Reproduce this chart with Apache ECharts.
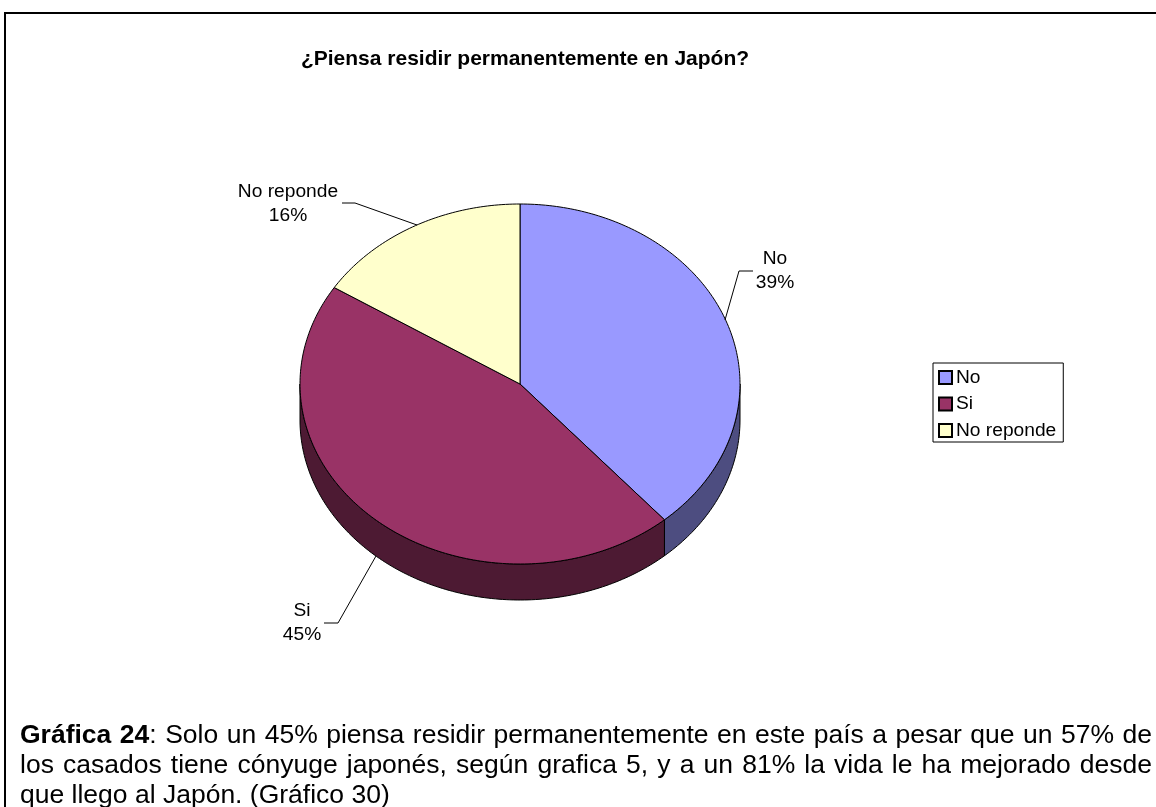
<!DOCTYPE html>
<html>
<head>
<meta charset="utf-8">
<title>Piensa residir</title>
<script src="https://cdn.jsdelivr.net/npm/echarts@6/dist/echarts.min.js"></script>
<style>
  html, body { margin: 0; padding: 0; background: #fff; overflow: hidden; }
  #chart { position: absolute; left: 0; top: 0; width: 1156px; height: 807px; }
  #caption {
    position: absolute; left: 20px; top: 719px; width: 1132px; margin: 0;
    font: 26.5px/30px "Liberation Sans", Arial, sans-serif; color: #000;
  }
  #caption div { white-space: nowrap; text-align: justify; text-align-last: justify; }
  #caption div:last-child { text-align-last: left; }
</style>
</head>
<body>
<div id="chart"></div>
<div id="caption">
  <div><b>Gráfica 24</b>: Solo un 45% piensa residir permanentemente en este país a pesar que un 57% de</div>
  <div>los casados tiene cónyuge japonés, según grafica 5, y a un 81% la vida le ha mejorado desde</div>
  <div>que llego al Japón. (Gráfico 30)</div>
</div>
<script>
const categories = ["No", "Si", "No reponde"];
const values = [38.6, 45.4, 16];
const topColors = ["#9999FF", "#993366", "#FFFFCC"];
const sideColors = ["#4D4D80", "#4D1A33", "#80804D"];

// pie is an ellipse seen from above, angle 0 = top, clockwise
const cx = 520, cy = 384, rx = 220, ry = 180, depth = 36;
const font = '"Liberation Sans", Arial, sans-serif';
// label centre and leader line for each slice
const labelPos = [[775, 271], [302, 623], [288, 204]];
const leaderLines = [
  [[753, 271], [739, 271], [725, 320]],
  [[324, 623], [338, 623], [376, 556]],
  [[342, 203], [355, 203], [417, 225]]
];

const total = values.reduce((a, b) => a + b, 0);
const starts = values.map((v, i) => values.slice(0, i).reduce((a, b) => a + b, 0) / total * Math.PI * 2);
const ends = values.map((v, i) => starts[i] + v / total * Math.PI * 2);

function rimPoint(a, dy) {
  return [cx + rx * Math.sin(a), cy - ry * Math.cos(a) + dy];
}
function arc(a0, a1, dy) {
  const pts = [];
  const n = Math.max(2, Math.ceil((a1 - a0) * 60));
  for (let k = 0; k <= n; k++) pts.push(rimPoint(a0 + (a1 - a0) * k / n, dy));
  return pts;
}

function renderSide(params) {
  const i = params.dataIndex;
  // only the front half of the rim shows
  const a0 = Math.max(starts[i], Math.PI / 2);
  const a1 = Math.min(ends[i], Math.PI * 1.5);
  if (a1 <= a0) return null;
  const pts = arc(a0, a1, 0).concat(arc(a0, a1, depth).reverse());
  return {
    type: "polygon",
    shape: { points: pts },
    style: { fill: sideColors[i], stroke: "#000", lineWidth: 1 }
  };
}

function renderTop(params) {
  const i = params.dataIndex;
  return {
    type: "polygon",
    shape: { points: [[cx, cy]].concat(arc(starts[i], ends[i], 0)) },
    style: { fill: topColors[i], stroke: "#000", lineWidth: 1 }
  };
}

function renderLabel(params) {
  const i = params.dataIndex;
  return {
    type: "group",
    children: [
      {
        type: "polyline",
        shape: { points: leaderLines[i] },
        style: { fill: null, stroke: "#000", lineWidth: 1 }
      },
      {
        type: "text",
        x: labelPos[i][0],
        y: labelPos[i][1],
        style: {
          text: categories[i] + "\n" + Math.round(values[i] / total * 100) + "%",
          font: "19.2px " + font,
          lineHeight: 24,
          fill: "#000",
          align: "center",
          verticalAlign: "middle"
        }
      }
    ]
  };
}

const chart = echarts.init(document.getElementById("chart"));
chart.setOption({
  animation: false,
  backgroundColor: "#fff",
  title: {
    text: "¿Piensa residir permanentemente en Japón?",
    left: 520,
    top: 44,
    textAlign: "center",
    textStyle: { fontFamily: font, fontSize: 21, fontWeight: "bold", color: "#000" }
  },
  legend: {
    orient: "vertical",
    left: 933,
    top: 363,
    padding: [5, 7, 2, 5],
    itemWidth: 13,
    itemHeight: 13,
    itemGap: 7.5,
    icon: "rect",
    borderColor: "#000",
    borderWidth: 1,
    backgroundColor: "#fff",
    selectedMode: false,
    data: categories,
    textStyle: { fontFamily: font, fontSize: 19.2, color: "#000", padding: [0, 0, 0, -1] }
  },
  graphic: [
    { type: "line", shape: { x1: 5, y1: 13, x2: 5, y2: 807 }, style: { stroke: "#000", lineWidth: 2 } },
    { type: "line", shape: { x1: 4, y1: 13, x2: 1156, y2: 13 }, style: { stroke: "#000", lineWidth: 2 } }
  ],
  series: [
    {
      type: "custom",
      name: "lados",
      coordinateSystem: "none",
      renderItem: renderSide,
      data: values,
      silent: true,
      z: 1
    }
  ].concat(categories.map((name, idx) => ({
    type: "custom",
    name: name,
    coordinateSystem: "none",
    renderItem: (params) => renderTop({ dataIndex: idx }),
    data: [values[idx]],
    itemStyle: { color: topColors[idx], borderColor: "#000", borderWidth: 1 },
    silent: true,
    z: 2
  }))).concat([
    {
      type: "custom",
      name: "etiquetas",
      coordinateSystem: "none",
      renderItem: renderLabel,
      data: values,
      silent: true,
      z: 3
    }
  ])
});
</script>
</body>
</html>
